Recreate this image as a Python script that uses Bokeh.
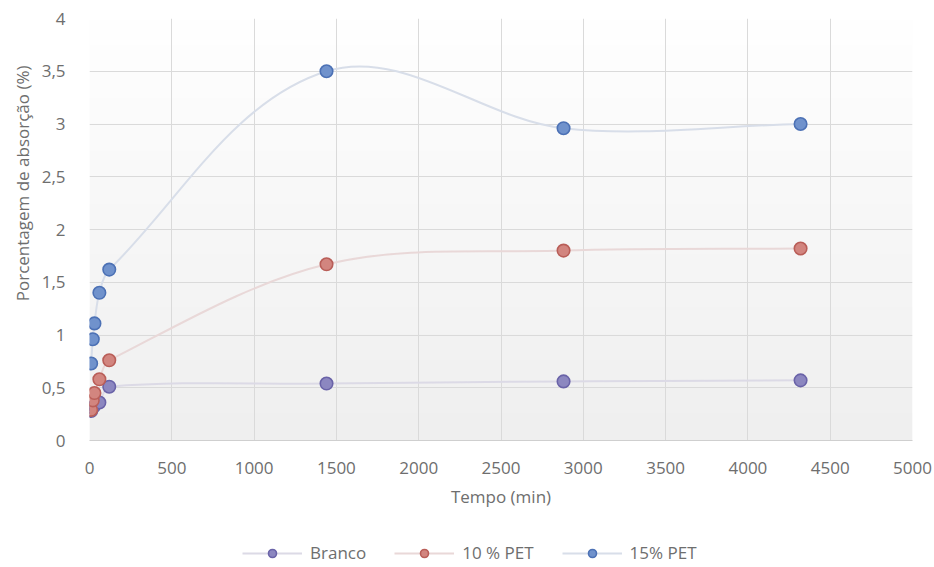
import numpy as np
from bokeh.plotting import figure
from bokeh.layouts import column
from bokeh.models import Range1d, FixedTicker, Legend, LegendItem, Title
from bokeh.embed import file_html
from bokeh.resources import INLINE

# Absorption test: time (min) vs. absorption percentage
tempo = [10, 20, 30, 60, 120, 1440, 2880, 4320]
branco = [0.28, 0.31, 0.33, 0.36, 0.51, 0.54, 0.56, 0.57]
pet10 = [0.29, 0.38, 0.45, 0.58, 0.76, 1.67, 1.80, 1.82]
pet15 = [0.73, 0.96, 1.11, 1.40, 1.62, 3.50, 2.96, 3.00]

series_names = ["Branco", "10 % PET", "15% PET"]
series_values = [branco, pet10, pet15]
marker_fill = ["#8c87c0", "#d2857f", "#7092cc"]
marker_line = ["#6a63a8", "#b95e58", "#4c71b5"]
curve_color = ["#dcdae6", "#e9d8d8", "#d8dee9"]

x_ticks = [0, 500, 1000, 1500, 2000, 2500, 3000, 3500, 4000, 4500, 5000]
y_ticks = [0, 0.5, 1, 1.5, 2, 2.5, 3, 3.5, 4]
y_tick_labels = ["0", "0,5", "1", "1,5", "2", "2,5", "3", "3,5", "4"]

FONT = "Open Sans"
FSIZE = "17px"
TXT = "#6e6e6e"
GRID = "#dadada"

W = 934
H_MAIN, H_KEY = 540, 27
LEFT, RIGHT, TOP, BOTTOM = 89, 22, 18, 100
XMAX, YMAX = 5000, 4
# pixel scale of the frame, used so the smoothing behaves as on screen
KX = (W - LEFT - RIGHT) / XMAX
KY = (H_MAIN - TOP - BOTTOM) / YMAX


def smooth_beziers(xs, ys):
    """Cubic Bezier control points for a smoothed line through (xs, ys)."""
    u = np.asarray(xs, float) * KX
    v = np.asarray(ys, float) * KY
    n = len(u)
    tx, ty = np.zeros(n), np.zeros(n)
    for i in range(n):
        a, b = max(i - 1, 0), min(i + 1, n - 1)
        dx, dy = u[b] - u[a], v[b] - v[a]
        L = np.hypot(dx, dy)
        tx[i], ty[i] = dx / L, dy / L
    x0, y0, x1, y1, cx0, cy0, cx1, cy1 = ([] for _ in range(8))
    for i in range(n - 1):
        h = np.hypot(u[i + 1] - u[i], v[i + 1] - v[i]) / 3.0
        x0.append(u[i] / KX); y0.append(v[i] / KY)
        x1.append(u[i + 1] / KX); y1.append(v[i + 1] / KY)
        cx0.append((u[i] + tx[i] * h) / KX); cy0.append((v[i] + ty[i] * h) / KY)
        cx1.append((u[i + 1] - tx[i + 1] * h) / KX); cy1.append((v[i + 1] - ty[i + 1] * h) / KY)
    return dict(x0=x0, y0=y0, x1=x1, y1=y1, cx0=cx0, cy0=cy0, cx1=cx1, cy1=cy1)


p = figure(width=W, height=H_MAIN, output_backend="svg", toolbar_location=None,
           x_range=Range1d(0, XMAX), y_range=Range1d(0, YMAX),
           min_border_left=LEFT, min_border_right=RIGHT,
           min_border_top=TOP, min_border_bottom=BOTTOM,
           background_fill_color="white", border_fill_color="white",
           outline_line_color=None)

# soft vertical gradient behind the plot area (white at top, light grey at bottom)
rows = 200
shade = np.linspace(239, 255, rows).astype(np.uint32)
img = np.empty((rows, 1), dtype=np.uint32)
img[:, 0] = (255 << 24) | (shade << 16) | (shade << 8) | shade
p.image_rgba(image=[img], x=0, y=0, dw=XMAX, dh=YMAX, level="image")

for vals, cc in zip(series_values, curve_color):
    seg = smooth_beziers(tempo, vals)
    p.bezier(source=seg, x0="x0", y0="y0", x1="x1", y1="y1",
             cx0="cx0", cy0="cy0", cx1="cx1", cy1="cy1",
             line_color=cc, line_width=2)

for vals, fc, lc in zip(series_values, marker_fill, marker_line):
    p.scatter(tempo, vals, size=12.5, marker="circle",
              fill_color=fc, line_color=lc, line_width=1.6)

p.xaxis.ticker = FixedTicker(ticks=x_ticks)
p.yaxis.ticker = FixedTicker(ticks=y_ticks)
p.yaxis.major_label_overrides = {t: s for t, s in zip(y_ticks, y_tick_labels)}

p.xaxis.axis_label = "Tempo (min)"

# vertical title on the left, set a little above the frame's middle
ytitle = Title(text="Porcentagem de absorção (%)", align="right", offset=47,
               standoff=10, text_font=FONT, text_font_size=FSIZE,
               text_font_style="normal", text_color=TXT)
p.add_layout(ytitle, "left")

for ax in (p.xaxis, p.yaxis):
    ax.major_tick_line_color = None
    ax.minor_tick_line_color = None
    ax.major_label_text_font = FONT
    ax.major_label_text_font_size = FSIZE
    ax.major_label_text_color = TXT
    ax.axis_label_text_font = FONT
    ax.axis_label_text_font_size = FSIZE
    ax.axis_label_text_font_style = "normal"
    ax.axis_label_text_color = TXT

p.xaxis.axis_line_color = "#cfcfcf"
p.yaxis.axis_line_color = None
p.xaxis.major_label_standoff = 15
p.yaxis.major_label_standoff = 18
p.xaxis.axis_label_standoff = 8

p.xgrid.grid_line_color = GRID
p.ygrid.grid_line_color = GRID

# legend strip under the chart; its sample renderers carry the series data
# but sit outside this strip's ranges, so only the legend glyphs show
key = figure(width=W, height=H_KEY, output_backend="svg", toolbar_location=None,
             x_range=Range1d(-2, -1), y_range=Range1d(-2, -1),
             min_border=0, outline_line_color=None,
             background_fill_color="white", border_fill_color="white")
key.axis.visible = False
key.grid.visible = False

items = []
for name, vals, fc, lc, cc in zip(series_names, series_values,
                                  marker_fill, marker_line, curve_color):
    ln = key.line(tempo, vals, line_color=cc, line_width=2)
    mk = key.scatter(tempo, vals, size=11, marker="circle",
                     fill_color=fc, line_color=lc, line_width=1.6)
    items.append(LegendItem(label=name, renderers=[ln, mk]))

legend = Legend(items=items, orientation="horizontal", location=(153, 3),
                glyph_width=60, glyph_height=20, label_standoff=8,
                spacing=28, padding=0, margin=0,
                background_fill_alpha=0, border_line_color=None,
                label_text_font=FONT, label_text_font_size=FSIZE,
                label_text_color=TXT)
key.add_layout(legend, "center")

open("out.html", "w").write(file_html(column(p, key, spacing=0), INLINE))
